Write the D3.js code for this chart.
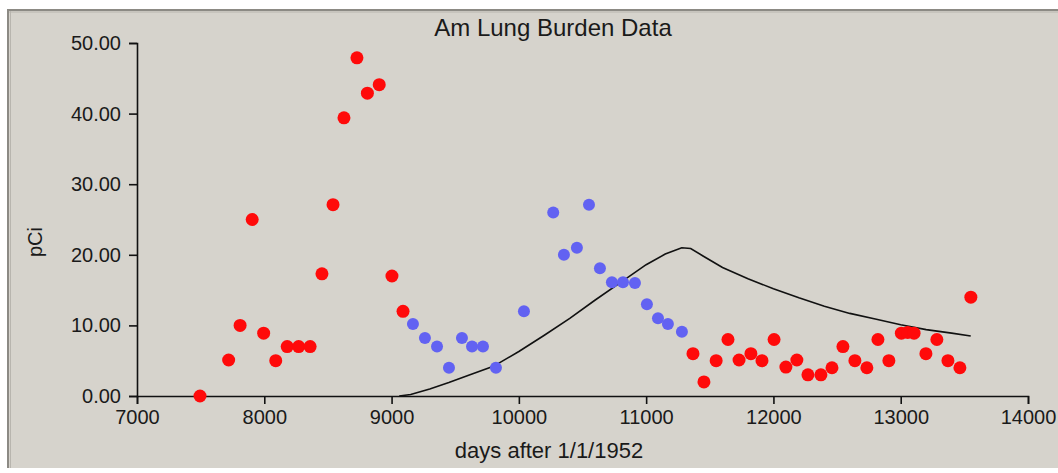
<!DOCTYPE html>
<html>
<head>
<meta charset="utf-8">
<script src="https://cdn.jsdelivr.net/npm/d3@7"></script>
<style>
  html, body { margin: 0; padding: 0; background: #ffffff; }
  svg { display: block; }
  text { font-family: "Liberation Sans", Arial, sans-serif; fill: #1a1a1a; }
</style>
</head>
<body>
<svg id="chart" width="1058" height="473"></svg>
<script>
// ---- data ----
const title = "Am Lung Burden Data";
const xLabel = "days after 1/1/1952";
const yLabel = "pCi";
const xTicks = [7000, 8000, 9000, 10000, 11000, 12000, 13000, 14000];
const yTicks = [0, 10, 20, 30, 40, 50];

// red measurements: [day, pCi]
const redDays = [7495, 7720, 7810, 7905, 7995, 8090, 8180, 8270, 8360, 8453, 8540, 8626, 8728, 8810, 8903, 9003, 9090,
  11368, 11454, 11550, 11643, 11730, 11823, 11910, 12005, 12098, 12184, 12271, 12373, 12460, 12546, 12640, 12734,
  12821, 12907, 13005, 13055, 13105, 13198, 13284, 13371, 13465, 13551];
const redValues = [0, 5.1, 10, 25, 8.9, 5, 7, 7, 7, 17.3, 27.1, 39.4, 47.9, 42.9, 44.1, 17, 12,
  6, 2, 5, 8, 5.1, 6, 5, 8, 4.1, 5.1, 3, 3, 4, 7, 5, 4,
  8, 5, 8.9, 9, 8.9, 6, 8, 5, 4, 14];

// blue measurements: [day, pCi]
const blueDays = [9168, 9262, 9357, 9451, 9553, 9632, 9718, 9820, 10040, 10270, 10354, 10456, 10551, 10637, 10731, 10818,
  10912, 11006, 11093, 11171, 11281];
const blueValues = [10.2, 8.2, 7, 4, 8.2, 7, 7, 4, 12, 26, 20, 21, 27.1, 18.1, 16.1, 16.1, 16, 13, 11, 10.2, 9.1];

// model curve (black line)
const lineDays = [9060, 9150, 9300, 9450, 9600, 9800, 10000, 10200, 10400, 10600, 10800, 11000, 11150, 11280, 11350,
  11450, 11600, 11800, 12000, 12200, 12400, 12600, 12800, 13000, 13200, 13400, 13550];
const lineValues = [0, 0.2, 1.0, 1.9, 2.9, 4.2, 6.3, 8.6, 11.0, 13.6, 16.1, 18.6, 20.1, 21.0, 20.9,
  19.8, 18.2, 16.6, 15.2, 13.9, 12.7, 11.7, 10.9, 10.1, 9.4, 8.9, 8.5];

// ---- drawing ----
const svg = d3.select("#chart");
const W = 1058, H = 473;
const plot = { left: 137, right: 1028, top: 43, bottom: 396 };

// window panel
svg.append("rect").attr("x", 8).attr("y", 9).attr("width", W - 8).attr("height", 459)
  .attr("fill", "#d6d3cc");
svg.append("line").attr("x1", 8).attr("x2", W).attr("y1", 10).attr("y2", 10)
  .attr("stroke", "#8c8a84").attr("stroke-width", 2);
svg.append("line").attr("x1", 8).attr("x2", W).attr("y1", 12).attr("y2", 12)
  .attr("stroke", "#b8b5ae").attr("stroke-width", 1);
svg.append("line").attr("x1", 8).attr("x2", 8).attr("y1", 9).attr("y2", 468)
  .attr("stroke", "#8c8a84").attr("stroke-width", 2);
svg.append("line").attr("x1", 10.5).attr("x2", 10.5).attr("y1", 11).attr("y2", 468)
  .attr("stroke", "#b8b5ae").attr("stroke-width", 1);

const x = d3.scaleLinear().domain([7000, 14000]).range([plot.left, plot.right]);
const y = d3.scaleLinear().domain([0, 50]).range([plot.bottom, plot.top]);

// axes
const xAxis = d3.axisBottom(x).tickValues(xTicks).tickFormat(d3.format("d")).tickSizeOuter(0).tickSize(8).tickPadding(6);
const yAxis = d3.axisLeft(y).tickValues(yTicks).tickFormat(d3.format(".2f")).tickSizeOuter(0).tickSize(8).tickPadding(8);

const gx = svg.append("g").attr("transform", `translate(0,${plot.bottom})`).call(xAxis);
const gy = svg.append("g").attr("transform", `translate(${plot.left},0)`).call(yAxis);
[gx, gy].forEach(g => {
  g.select(".domain").attr("stroke", "#111").attr("stroke-width", 1.6);
  g.selectAll(".tick line").attr("stroke", "#111").attr("stroke-width", 1.6);
  g.selectAll(".tick text").attr("font-size", 20).attr("fill", "#1a1a1a")
    .attr("font-family", "'Liberation Sans', Arial, sans-serif");
});

// model line
const lineData = lineDays.map((d, i) => [d, lineValues[i]]);
svg.append("path").datum(lineData)
  .attr("fill", "none").attr("stroke", "#111").attr("stroke-width", 1.6)
  .attr("d", d3.line().x(d => x(d[0])).y(d => y(d[1])));

// blue points
svg.append("g").selectAll("circle").data(blueDays.map((d, i) => [d, blueValues[i]]))
  .join("circle")
  .attr("cx", d => x(d[0])).attr("cy", d => y(d[1])).attr("r", 6)
  .attr("fill", "#6262f2");

// red points
svg.append("g").selectAll("circle").data(redDays.map((d, i) => [d, redValues[i]]))
  .join("circle")
  .attr("cx", d => x(d[0])).attr("cy", d => y(d[1])).attr("r", 6.5)
  .attr("fill", "#ff0a0a");

// labels
svg.append("text").attr("x", 553).attr("y", 36).attr("text-anchor", "middle")
  .attr("font-size", 24).text(title);
svg.append("text").attr("x", 549).attr("y", 458).attr("text-anchor", "middle")
  .attr("font-size", 22).text(xLabel);
svg.append("text").attr("transform", "translate(42,242) rotate(-90)").attr("text-anchor", "middle")
  .attr("font-size", 20).text(yLabel);
</script>
</body>
</html>
